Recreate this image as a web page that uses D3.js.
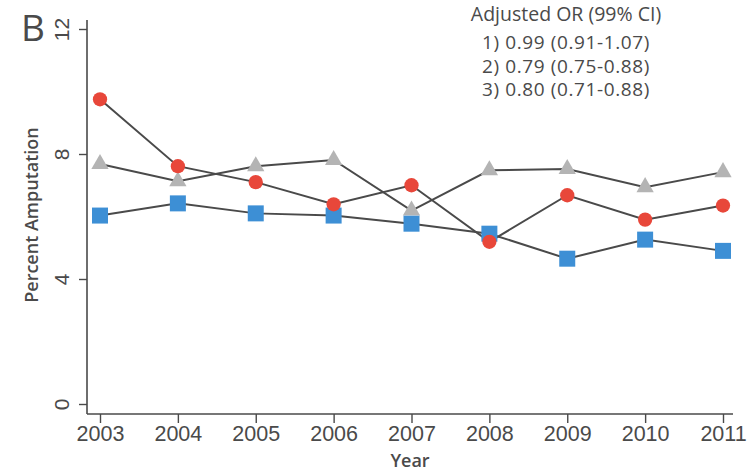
<!DOCTYPE html>
<html>
<head>
<meta charset="utf-8">
<script src="https://cdn.jsdelivr.net/npm/d3@7"></script>
<style>
  html, body { margin: 0; padding: 0; background: #fff; }
  svg { display: block; font-family: "Open Sans", "Noto Sans", sans-serif; }
</style>
</head>
<body>
<svg id="chart" width="751" height="473"></svg>
<script>
// Years on the x axis
const years = [2003, 2004, 2005, 2006, 2007, 2008, 2009, 2010, 2011];
// Percent amputation per year, one array per group
const seriesGray = [7.68, 7.13, 7.61, 7.81, 6.19, 7.48, 7.52, 6.94, 7.42];
const seriesBlue = [6.03, 6.42, 6.10, 6.03, 5.77, 5.45, 4.65, 5.26, 4.90];
const seriesRed  = [9.75, 7.61, 7.10, 6.39, 7.00, 5.19, 6.68, 5.90, 6.35];
// Y axis tick values
const yTicks = [0, 4, 8, 12];
// Adjusted odds ratio annotation
const orTitle = "Adjusted OR (99% CI)";
const orLines = ["1) 0.99 (0.91-1.07)", "2) 0.79 (0.75-0.88)", "3) 0.80 (0.71-0.88)"];

const svg = d3.select("#chart");
const ink = "#4a4a4a";

const x = d3.scaleLinear().domain([2003, 2011]).range([100, 723]);
const y = d3.scaleLinear().domain([0, 12]).range([404, 29]);

// Axis frame lines (y axis and x axis meet at the corner, below the 0 tick)
svg.append("line").attr("x1", 87).attr("x2", 87).attr("y1", 20).attr("y2", 414)
  .attr("stroke", ink).attr("stroke-width", 1.6);
svg.append("line").attr("x1", 87).attr("x2", 733).attr("y1", 414).attr("y2", 414)
  .attr("stroke", ink).attr("stroke-width", 1.6);

// Y axis
const yAxis = svg.append("g").attr("transform", "translate(87,0)")
  .call(d3.axisLeft(y).tickValues(yTicks).tickSize(8).tickFormat(d3.format("d")));
yAxis.select(".domain").remove();
yAxis.selectAll(".tick line").attr("stroke", ink).attr("stroke-width", 1.4);
yAxis.selectAll(".tick text")
  .attr("fill", ink).attr("font-size", 21)
  .attr("transform", "rotate(-90, -16, 0)")
  .attr("x", -16).attr("y", 0).attr("dy", "-0.1em")
  .attr("text-anchor", "middle");

// X axis
const xAxis = svg.append("g").attr("transform", "translate(0,414)")
  .call(d3.axisBottom(x).tickValues(years).tickSize(9).tickPadding(3).tickFormat(d3.format("d")));
xAxis.select(".domain").remove();
xAxis.selectAll(".tick line").attr("stroke", ink).attr("stroke-width", 1.4);
xAxis.selectAll(".tick text").attr("fill", ink).attr("font-size", 21.5);

// Axis titles
svg.append("text").attr("x", 410).attr("y", 467).attr("text-anchor", "middle")
  .attr("fill", ink).attr("font-size", 18).attr("font-weight", 600).text("Year");
svg.append("text").attr("transform", "translate(38,215) rotate(-90)")
  .attr("text-anchor", "middle").attr("fill", ink).attr("font-size", 18)
  .attr("font-weight", 600).text("Percent Amputation");

// Panel letter
svg.append("text").attr("x", 21).attr("y", 41).attr("fill", ink)
  .attr("font-size", 37).text("B");

// Odds ratio annotation
svg.append("text").attr("x", 566).attr("y", 21).attr("text-anchor", "middle")
  .attr("fill", ink).attr("font-size", 19.5).text(orTitle);
orLines.forEach((t, i) => {
  svg.append("text").attr("x", 566).attr("y", 49 + i * 23.5).attr("text-anchor", "middle")
    .attr("fill", ink).attr("font-size", 19).attr("letter-spacing", 0.6).text(t);
});

// Series lines and markers
const line = d3.line().x((d, i) => x(years[i])).y(d => y(d));
const groups = [
  { values: seriesGray, color: "#b4b4b4", symbol: d3.symbolTriangle, size: 130 },
  { values: seriesBlue, color: "#3d8fd5", symbol: d3.symbolSquare, size: 256 },
  { values: seriesRed,  color: "#e8473a", symbol: d3.symbolCircle, size: 160 }
];
groups.forEach(g => {
  svg.append("path").datum(g.values).attr("d", line)
    .attr("fill", "none").attr("stroke", ink).attr("stroke-width", 2);
});
groups.forEach(g => {
  svg.append("g").selectAll("path").data(g.values).join("path")
    .attr("transform", (d, i) => `translate(${x(years[i])},${y(d)})`)
    .attr("d", d3.symbol().type(g.symbol).size(g.size))
    .attr("fill", g.color);
});
</script>
</body>
</html>
